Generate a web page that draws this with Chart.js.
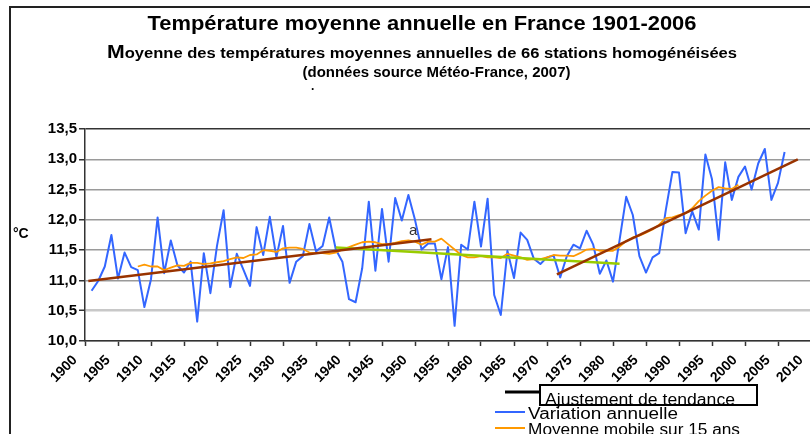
<!DOCTYPE html>
<html>
<head>
<meta charset="utf-8">
<script src="https://cdn.jsdelivr.net/npm/chart.js@4.4.1/dist/chart.umd.min.js"></script>
<style>
  html, body { margin: 0; padding: 0; background: #fff; }
  #wrap { width: 810px; height: 434px; overflow: hidden; position: relative; background: #fff; }
  canvas { display: block; }
</style>
</head>
<body>
<div id="wrap"><canvas id="tempChart" width="830" height="434"></canvas></div>
<script>
// annual values, 1901-2006 (°C)
const years = [
  1901, 1902, 1903, 1904, 1905, 1906, 1907, 1908, 1909, 1910,
  1911, 1912, 1913, 1914, 1915, 1916, 1917, 1918, 1919, 1920,
  1921, 1922, 1923, 1924, 1925, 1926, 1927, 1928, 1929, 1930,
  1931, 1932, 1933, 1934, 1935, 1936, 1937, 1938, 1939, 1940,
  1941, 1942, 1943, 1944, 1945, 1946, 1947, 1948, 1949, 1950,
  1951, 1952, 1953, 1954, 1955, 1956, 1957, 1958, 1959, 1960,
  1961, 1962, 1963, 1964, 1965, 1966, 1967, 1968, 1969, 1970,
  1971, 1972, 1973, 1974, 1975, 1976, 1977, 1978, 1979, 1980,
  1981, 1982, 1983, 1984, 1985, 1986, 1987, 1988, 1989, 1990,
  1991, 1992, 1993, 1994, 1995, 1996, 1997, 1998, 1999, 2000,
  2001, 2002, 2003, 2004, 2005, 2006
];
const annualTemps = [
  10.83, 10.99, 11.23, 11.75, 11.03, 11.46, 11.22, 11.17, 10.56, 11.02,
  12.04, 11.12, 11.66, 11.25, 11.13, 11.31, 10.32, 11.45, 10.79, 11.57,
  12.16, 10.89, 11.44, 11.18, 10.91, 11.88, 11.42, 12.05, 11.38, 11.90,
  10.96, 11.31, 11.40, 11.93, 11.48, 11.57, 12.04, 11.51, 11.31, 10.69,
  10.64, 11.20, 12.30, 11.16, 12.18, 11.31, 12.36, 11.99, 12.41, 12.00,
  11.51, 11.61, 11.61, 11.02, 11.55, 10.25, 11.59, 11.51, 12.30, 11.56,
  12.35, 10.76, 10.43, 11.49, 11.04, 11.79, 11.67, 11.36, 11.27, 11.38,
  11.41, 11.05, 11.40, 11.59, 11.53, 11.82, 11.59, 11.11, 11.33, 10.98,
  11.67, 12.38, 12.08, 11.40, 11.13, 11.38, 11.45, 12.16, 12.79, 12.78,
  11.78, 12.14, 11.84, 13.08, 12.67, 11.67, 12.95, 12.33, 12.71, 12.88,
  12.50, 12.93, 13.17, 12.33, 12.61, 13.12
];

// 15-year moving average, 1908-1999
const maYears = [
  1908, 1909, 1910, 1911, 1912, 1913, 1914, 1915, 1916, 1917,
  1918, 1919, 1920, 1921, 1922, 1923, 1924, 1925, 1926, 1927,
  1928, 1929, 1930, 1931, 1932, 1933, 1934, 1935, 1936, 1937,
  1938, 1939, 1940, 1941, 1942, 1943, 1944, 1945, 1946, 1947,
  1948, 1949, 1950, 1951, 1952, 1953, 1954, 1955, 1956, 1957,
  1958, 1959, 1960, 1961, 1962, 1963, 1964, 1965, 1966, 1967,
  1968, 1969, 1970, 1971, 1972, 1973, 1974, 1975, 1976, 1977,
  1978, 1979, 1980, 1981, 1982, 1983, 1984, 1985, 1986, 1987,
  1988, 1989, 1990, 1991, 1992, 1993, 1994, 1995, 1996, 1997,
  1998, 1999
];
const movingAvg = [
  11.23, 11.26, 11.23, 11.23, 11.17, 11.21, 11.25, 11.24, 11.29, 11.29,
  11.27, 11.28, 11.30, 11.32, 11.35, 11.38, 11.37, 11.42, 11.43, 11.50,
  11.49, 11.47, 11.53, 11.54, 11.54, 11.52, 11.46, 11.45, 11.45, 11.44,
  11.46, 11.51, 11.55, 11.59, 11.63, 11.64, 11.63, 11.60, 11.60, 11.62,
  11.65, 11.66, 11.64, 11.59, 11.64, 11.64, 11.69, 11.60, 11.51, 11.42,
  11.38, 11.38, 11.40, 11.38, 11.38, 11.37, 11.44, 11.41, 11.38, 11.34,
  11.35, 11.35, 11.38, 11.42, 11.41, 11.41, 11.40, 11.45, 11.51, 11.52,
  11.49, 11.49, 11.49, 11.56, 11.65, 11.71, 11.74, 11.79, 11.84, 11.92,
  12.03, 12.04, 12.08, 12.11, 12.19, 12.31, 12.40, 12.48, 12.54, 12.52,
  12.51, 12.58
];

// trend segments (start / end)
const trendEarlyYears = [1900.5, 1952.5];
const trendEarlyValues = [10.99, 11.68];
const trendLateYears = [1971.5, 2008];
const trendLateValues = [11.10, 13.00];
const trendMidYears = [1938, 1981];
const trendMidValues = [11.545, 11.275];

const xTickLabels = ['1900', '1905', '1910', '1915', '1920', '1925', '1930', '1935', '1940', '1945', '1950', '1955',
  '1960', '1965', '1970', '1975', '1980', '1985', '1990', '1995', '2000', '2005', '2010'];
const yTickLabels = ['10,0', '10,5', '11,0', '11,5', '12,0', '12,5', '13,0', '13,5'];

const FONT = "'Liberation Sans', Arial, Helvetica, sans-serif";
const BLUE = '#3366ff';
const ORANGE = '#ff9900';
const BROWN = '#993300';
const GREEN = '#99cc00';

function toPoints(xs, ys) {
  return ys.map((v, i) => ({ x: xs[i], y: v }));
}

// draw text squeezed/stretched to a given width
function fitText(ctx, text, x, y, font, width, align) {
  ctx.font = font;
  const s = width / ctx.measureText(text).width;
  ctx.save();
  ctx.translate(x, y);
  ctx.scale(s, 1);
  ctx.textAlign = align || 'left';
  ctx.fillText(text, 0, 0);
  ctx.restore();
}

const decor = {
  id: 'decor',
  beforeDraw(chart) {
    const c = chart.ctx;
    c.save();
    c.fillStyle = '#fff';
    c.fillRect(0, 0, chart.width, chart.height);
    c.restore();
  },
  afterDraw(chart) {
    const c = chart.ctx;
    c.save();
    c.fillStyle = '#000';
    c.textBaseline = 'alphabetic';

    // outer frame
    c.strokeStyle = '#222';
    c.lineWidth = 2;
    c.beginPath();
    c.moveTo(10, 434);
    c.lineTo(10, 7);
    c.lineTo(chart.width, 7);
    c.stroke();

    // titles
    fitText(c, 'Température moyenne annuelle en France 1901-2006', 422, 30, 'bold 20px ' + FONT, 549, 'center');

    c.font = 'bold 18px ' + FONT;
    const wM = c.measureText('M').width;
    const rest = 'oyenne des températures moyennes annuelles de 66 stations homogénéisées';
    c.font = 'bold 14px ' + FONT;
    const wR = c.measureText(rest).width;
    const s = 630 / (wM + wR);
    c.save();
    c.translate(107, 58);
    c.scale(s, 1);
    c.font = 'bold 18px ' + FONT;
    c.fillText('M', 0, 0);
    c.font = 'bold 14px ' + FONT;
    c.fillText(rest, wM, 0);
    c.restore();

    fitText(c, '(données source Météo-France, 2007)', 436.5, 77, 'bold 14px ' + FONT, 268, 'center');
    c.font = 'bold 12px ' + FONT;
    c.fillText('.', 311, 90);

    // axis unit
    c.font = 'bold 14px ' + FONT;
    c.fillText('°C', 13, 238);

    // marker label
    c.fillStyle = '#333';
    c.font = '15px ' + FONT;
    c.fillText('a', 409, 235);

    // legend
    c.fillStyle = '#000';
    c.lineWidth = 3;
    c.strokeStyle = '#000';
    c.beginPath(); c.moveTo(505, 392); c.lineTo(540, 392); c.stroke();
    fitText(c, 'Ajustement de tendance', 545, 405, '16px ' + FONT, 190, 'left');
    c.lineWidth = 2;
    c.strokeRect(540, 385, 217, 20);

    c.strokeStyle = BLUE;
    c.beginPath(); c.moveTo(495, 412); c.lineTo(525, 412); c.stroke();
    fitText(c, 'Variation annuelle', 528, 419, '16px ' + FONT, 150, 'left');

    c.strokeStyle = ORANGE;
    c.beginPath(); c.moveTo(495, 428); c.lineTo(525, 428); c.stroke();
    fitText(c, 'Moyenne mobile sur 15 ans', 528, 435, '16px ' + FONT, 212, 'left');

    c.restore();
  }
};

new Chart(document.getElementById('tempChart'), {
  type: 'line',
  data: {
    datasets: [
      { label: 'Ajustement de tendance', data: toPoints(trendEarlyYears, trendEarlyValues), borderColor: BROWN, borderWidth: 2.5, order: 0 },
      { label: 'Ajustement de tendance', data: toPoints(trendLateYears, trendLateValues), borderColor: BROWN, borderWidth: 2.5, order: 0 },
      { label: 'Tendance 1938-1981', data: toPoints(trendMidYears, trendMidValues), borderColor: GREEN, borderWidth: 2.5, order: 1 },
      { label: 'Moyenne mobile sur 15 ans', data: toPoints(maYears, movingAvg), borderColor: ORANGE, borderWidth: 1.8, order: 2 },
      { label: 'Variation annuelle', data: toPoints(years, annualTemps), borderColor: BLUE, borderWidth: 2, order: 3 }
    ]
  },
  options: {
    responsive: false,
    animation: false,
    layout: { padding: { left: 0, top: 129, right: 19, bottom: 0 } },
    elements: {
      point: { radius: 0 },
      line: { tension: 0, borderJoinStyle: 'round', fill: false }
    },
    plugins: { legend: { display: false }, tooltip: { enabled: false } },
    scales: {
      x: {
        type: 'linear',
        min: 1900,
        max: 2010,
        afterFit: (scale) => { scale.height = 93; },
        border: { color: '#333', width: 1.5 },
        grid: { drawOnChartArea: false, drawTicks: true, tickLength: 5, tickColor: '#333', tickWidth: 1.5 },
        ticks: {
          stepSize: 5,
          autoSkip: false,
          minRotation: 45,
          maxRotation: 45,
          padding: 6,
          labelOffset: -10,
          color: '#000',
          font: { family: FONT, size: 14, weight: 'bold' },
          callback: (v, i) => xTickLabels[i]
        }
      },
      y: {
        min: 10,
        max: 13.5,
        afterFit: (scale) => { scale.width = 85; },
        border: { color: '#333', width: 1.5 },
        grid: {
          color: (ctx) => ctx.tick.value === 13.5 ? '#333' : (ctx.tick.value === 10.5 ? '#c8c8c8' : '#9a9a9a'),
          lineWidth: (ctx) => ctx.tick.value === 10.5 ? 2.5 : 1.5,
          tickLength: 6,
          tickColor: '#333',
          tickWidth: 1.5
        },
        ticks: {
          stepSize: 0.5,
          padding: 2,
          color: '#000',
          font: { family: FONT, size: 15, weight: 'bold' },
          callback: (v, i) => yTickLabels[i]
        }
      }
    }
  },
  plugins: [decor]
});
</script>
</body>
</html>
